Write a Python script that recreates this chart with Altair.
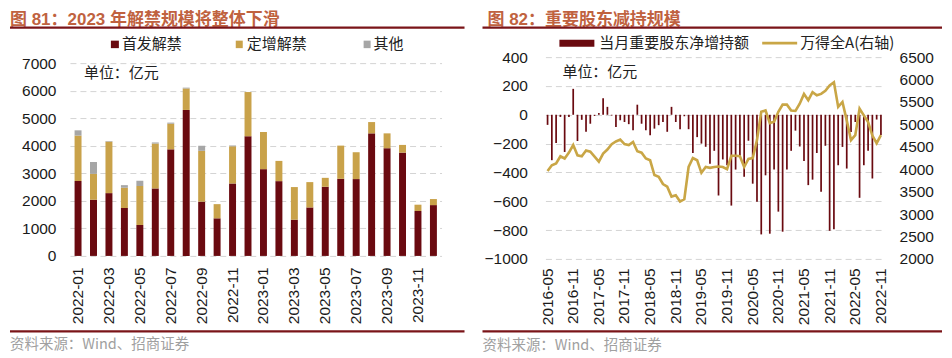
import altair as alt
import pandas as pd

# ---------------- data: left panel (图81) ----------------
months_left = ["2022-01", "2022-02", "2022-03", "2022-04", "2022-05", "2022-06",
               "2022-07", "2022-08", "2022-09", "2022-10", "2022-11", "2022-12",
               "2023-01", "2023-02", "2023-03", "2023-04", "2023-05", "2023-06",
               "2023-07", "2023-08", "2023-09", "2023-10", "2023-11", "2023-12"]
shoufa = [2720, 2040, 2280, 1740, 1120, 2450, 3870, 5300, 1970, 1365, 2630, 4345,
          3150, 2715, 1315, 1760, 2510, 2800, 2790, 4450, 3910, 3750, 1630, 1845]
dingzeng = [1650, 940, 1870, 735, 1415, 1630, 930, 780, 1845, 515, 1350, 1605,
            1350, 735, 1185, 920, 325, 1205, 975, 410, 540, 280, 230, 220]
qita = [190, 430, 20, 95, 195, 40, 40, 30, 185, 0, 30, 0,
        0, 0, 0, 0, 0, 0, 0, 0, 0, 0, 0, 0]
left_types = ["首发解禁", "定增解禁", "其他"]
left_colors = ["#6A0A10", "#C9A24A", "#A6A6A6"]
left_xticks = ["2022-01", "2022-03", "2022-05", "2022-07", "2022-09", "2022-11",
               "2023-01", "2023-03", "2023-05", "2023-07", "2023-09", "2023-11"]
left_yticks = [0, 1000, 2000, 3000, 4000, 5000, 6000, 7000]

# ---------------- data: right panel (图82) ----------------
months_right = [str(p) for p in pd.period_range("2016-05", "2022-11", freq="M")]
net_hold = [-70, -315, -195, -15, -258, -15, 180, -182, -35, -118, -62, -8,
            12, 115, 55, -5, -85, -38, -50, -65, -107, 70, -62, -107,
            -142, -96, -72, -50, -118, 55, -50, -100, -10, -100, -265, -155,
            -200, -222, -340, -250, -560, -310, -350, -630, -380, -290, -430, -180,
            -478, -604, -830, -420, -825, -380, -672, -811, -380, -250, -110, -220,
            -320, -488, -450, -265, -534, -215, -805, -795, -350, -223, -373, -120,
            -50, -576, -350, -250, -442, -33, -140]
wind_a = [3960, 4090, 4130, 4290, 4240, 4370, 4540, 4310, 4290, 4420, 4390, 4280,
          4170, 4350, 4440, 4560, 4620, 4660, 4560, 4540, 4610, 4400, 4370, 4240,
          4200, 3870, 3830, 3670, 3610, 3390, 3420, 3280, 3330, 4050, 4250, 4200,
          3920, 4050, 4030, 4050, 4060, 4050, 4000, 4300, 4300, 4290, 4050, 4230,
          4250, 4650, 5280, 5310, 5030, 5060, 5280, 5440, 5440, 5310, 5300, 5460,
          5680, 5540, 5720, 5650, 5680, 5750, 5870, 5940, 5390, 5500, 5090, 4650,
          4760, 5350, 5200, 5050, 4750, 4580, 4760]
right_xticks = ["2016-05", "2016-11", "2017-05", "2017-11", "2018-05", "2018-11",
                "2019-05", "2019-11", "2020-05", "2020-11", "2021-05", "2021-11",
                "2022-05", "2022-11"]
right_yticks = [-1000, -800, -600, -400, -200, 0, 200, 400]
right_y2ticks = [2000, 2500, 3000, 3500, 4000, 4500, 5000, 5500, 6000, 6500]

# ---------------- styling ----------------
CJK = "Noto Sans CJK SC"
NUM = "Liberation Sans"
TITLE_FONT = "Liberation Sans, Noto Sans CJK SC"
TITLE_C = "#C0623F"
RULE_C = "#7A1418"
SRC_C = "#A0A0A0"
GRID_C = "#D4D4D4"
BAR_R = "#6A0A10"
LINE_C = "#C9A646"
LFS = 15.5
TFS = 17
TITLE_Y = 19.5
TOP_RULE_Y = 27.5

one = pd.DataFrame({"a": [0]})


def txt(s, x, y, size=15, color="#222222", weight="normal", font=CJK, align="left"):
    return alt.Chart(one).mark_text(text=s, align=align, baseline="middle", fontSize=size,
                                    color=color, fontWeight=weight, font=font).encode(
        x=alt.value(x), y=alt.value(y))


def hrule(x1, x2, y, color, w, opacity=1.0):
    return alt.Chart(one).mark_rule(color=color, strokeWidth=w, opacity=opacity).encode(
        x=alt.value(x1), x2=alt.value(x2), y=alt.value(y))


def box(x1, x2, y1, y2, color):
    return alt.Chart(one).mark_rect(color=color).encode(
        x=alt.value(x1), x2=alt.value(x2), y=alt.value(y1), y2=alt.value(y2))


# ---------------- left panel ----------------
LW, LH = 372, 199
rows = []
for i, m in enumerate(months_left):
    rows.append({"month": m, "type": "首发解禁", "ord": 0, "value": shoufa[i]})
    rows.append({"month": m, "type": "定增解禁", "ord": 1, "value": dingzeng[i]})
    rows.append({"month": m, "type": "其他", "ord": 2, "value": qita[i]})
df_left = pd.DataFrame(rows)

left_bars = alt.Chart(df_left).mark_bar().encode(
    x=alt.X("month:N", sort=months_left,
            scale=alt.Scale(paddingInner=0.55, paddingOuter=0.3),
            axis=alt.Axis(values=left_xticks, labelAngle=-90, title=None, domain=False,
                          ticks=False, labelPadding=11, labelFontSize=LFS, labelFont=NUM,
                          labelColor="#1A1A1A")),
    y=alt.Y("value:Q", stack="zero",
            scale=alt.Scale(domain=[0, 7000], range=[LH, 6], nice=False),
            axis=alt.Axis(values=left_yticks, format="d", title=None, domain=False, ticks=False,
                          labelPadding=14, labelFontSize=LFS, labelFont=NUM,
                          labelColor="#1A1A1A", grid=True, gridColor=GRID_C,
                          gridDash=[6, 4], gridWidth=1)),
    color=alt.Color("type:N", scale=alt.Scale(domain=left_types, range=left_colors), legend=None),
    order=alt.Order("ord:Q"),
)

ox, oy = 68, 57
left = alt.layer(
    left_bars,
    hrule(8 - ox, 463 - ox, 8 - oy, "#FFFFFF", 0.5, opacity=0),
    txt("图 81：2023 年解禁规模将整体下滑", 8 - ox, TITLE_Y - oy, size=TFS, color=TITLE_C,
        weight="bold", font=TITLE_FONT),
    hrule(8 - ox, 463 - ox, TOP_RULE_Y - oy, RULE_C, 2.2),
    box(109 - ox, 117 - ox, 40.5 - oy, 48 - oy, left_colors[0]),
    txt("首发解禁", 120 - ox, 44.3 - oy, size=15),
    box(234 - ox, 241 - ox, 40.5 - oy, 48 - oy, left_colors[1]),
    txt("定增解禁", 245 - ox, 44.3 - oy, size=15),
    box(362 - ox, 369 - ox, 40.5 - oy, 48 - oy, left_colors[2]),
    txt("其他", 372 - ox, 44.3 - oy, size=15),
    txt("单位：亿元", 82 - ox, 72.5 - oy, size=15),
    hrule(8 - ox, 463 - ox, 331.5 - oy, RULE_C, 2.2),
    txt("资料来源：Wind、招商证券", 8 - ox, 345 - oy, size=14.5, color=SRC_C),
).properties(width=LW, height=LH)

# ---------------- right panel ----------------
RW, RH = 338, 202
df_right = pd.DataFrame({"month": months_right, "net": net_hold, "wind": wind_a})

xr = alt.X("month:N", sort=months_right,
           scale=alt.Scale(paddingInner=0.6, paddingOuter=0.3),
           axis=alt.Axis(values=right_xticks, labelAngle=-90, title=None, domain=False,
                         ticks=False, labelPadding=9, labelFontSize=LFS, labelFont=NUM,
                         labelColor="#1A1A1A"))

right_bars = alt.Chart(df_right).mark_bar(color=BAR_R).encode(
    x=xr,
    y=alt.Y("net:Q", scale=alt.Scale(domain=[-1000, 400], nice=False),
            axis=alt.Axis(values=right_yticks, format="d", title=None, domain=False, ticks=False,
                          labelPadding=18, labelFontSize=LFS, labelFont=NUM,
                          labelColor="#1A1A1A", grid=True, gridColor=GRID_C,
                          gridDash=[6, 4], gridWidth=1)),
)
right_line = alt.Chart(df_right).mark_line(color=LINE_C, strokeWidth=2.6).encode(
    x=alt.X("month:N", sort=months_right, bandPosition=0.5),
    y=alt.Y("wind:Q", scale=alt.Scale(domain=[2000, 6500], nice=False, zero=False),
            axis=alt.Axis(values=right_y2ticks, format="d", orient="right", title=None,
                          domain=False, ticks=False, labelPadding=16, labelFontSize=LFS,
                          labelFont=NUM, labelColor="#1A1A1A", grid=False)),
)

ox2, oy2 = 544, 57
right = alt.layer(
    right_bars, right_line,
    hrule(481 - ox2, 941 - ox2, 8 - oy2, "#FFFFFF", 0.5, opacity=0),
    txt("图 82：重要股东减持规模", 486 - ox2, TITLE_Y - oy2, size=TFS, color=TITLE_C,
        weight="bold", font=TITLE_FONT),
    hrule(481 - ox2, 941 - ox2, TOP_RULE_Y - oy2, RULE_C, 2.2),
    box(558 - ox2, 593 - ox2, 39.5 - oy2, 46.5 - oy2, BAR_R),
    txt("当月重要股东净增持额", 598 - ox2, 43 - oy2, size=15),
    hrule(761 - ox2, 796 - ox2, 43 - oy2, LINE_C, 2.6),
    txt("万得全A(右轴)", 799 - ox2, 43 - oy2, size=15),
    txt("单位：亿元", 561 - ox2, 72 - oy2, size=15),
    hrule(481 - ox2, 941 - ox2, 331.5 - oy2, RULE_C, 2.2),
    txt("资料来源：Wind、招商证券", 481 - ox2, 346 - oy2, size=14.5, color=SRC_C),
).resolve_scale(y="independent").properties(width=RW, height=RH)

chart = alt.hconcat(left, right, spacing=104, bounds="flush").properties(
    padding=0
).configure_view(stroke=None).configure_axis(labelFont=NUM)

chart.save("out.html", embed_options={"renderer": "svg", "actions": False})
